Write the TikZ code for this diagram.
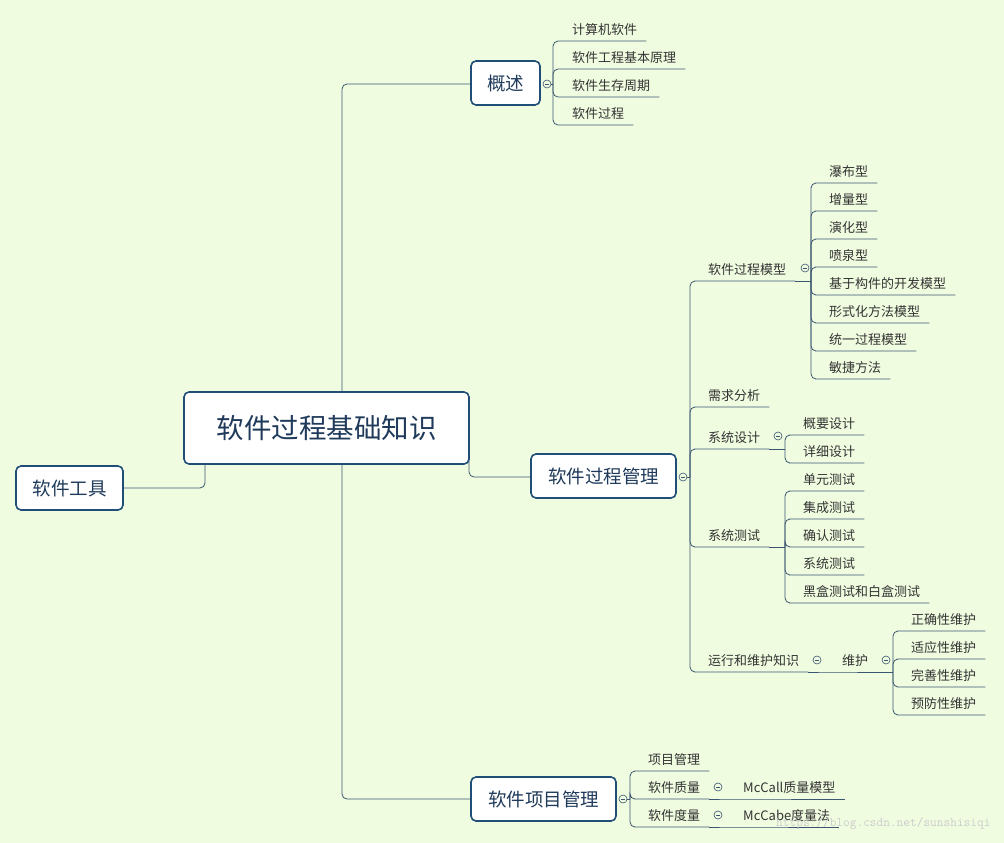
\documentclass[tikz,border=0pt]{standalone}
\usepackage{fontspec}
\newfontfamily\cjk{Noto Sans CJK SC}
\definecolor{bg}{HTML}{F0FCE0}
\definecolor{ln}{HTML}{3A5670}
\definecolor{bd}{HTML}{1F4E79}
\definecolor{tx}{HTML}{1F3A5A}
\definecolor{lt}{HTML}{333333}
\tikzset{
 conn/.style={draw=ln,line width=0.8pt,rounded corners=5pt},
 box/.style={draw=bd,line width=1.6pt,rounded corners=5pt,fill=white,text=tx,font=\cjk\fontsize{18.5}{20}\selectfont,inner sep=0pt},
 leaf/.style={anchor=south west,inner xsep=9pt,inner ysep=5.5pt,text=lt,font=\cjk\fontsize{13}{14}\selectfont},
 coll/.style={draw=ln,circle,line width=0.6pt,minimum size=8pt,inner sep=0pt,fill=bg,
   path picture={\draw[ln,line width=0.6pt] ([xshift=-2pt]path picture bounding box.center)--([xshift=2pt]path picture bounding box.center);}}
}
\newcommand\leaf[4]{\node[leaf] (#1) at ({#2-9},#3) {#4};}
\begin{document}
\begin{tikzpicture}[x=1pt,y=-1pt]
\fill[bg] (0,0) rectangle (1004,843);
\useasboundingbox (0,0) rectangle (1004,843);
% trunk
\draw[conn] (342,400) |- (471,84);
\draw[conn] (342,460) |- (471,799);
\draw[conn] (469,455) |- (531,477);
\draw[conn] (123,488) -| (205,455);
% main boxes
\node[box,minimum width=285pt,minimum height=72pt,font=\cjk\fontsize{27.5}{30}\selectfont] (root) at (326.5,428) {软件过程基础知识};
\node[box,minimum width=107pt,minimum height=44pt] (tool) at (69.5,488) {软件工具};
\node[box,minimum width=69pt,minimum height=44pt] (gs) at (505.5,83) {概述};
\node[box,minimum width=145pt,minimum height=44pt] (gl) at (603.5,476) {软件过程管理};
\node[box,minimum width=145pt,minimum height=44pt] (xm) at (543.5,799) {软件项目管理};
% 概述
\node[coll] (c1) at (547,84) {};
\coordinate (j1) at (553,84);
\draw[conn] (c1.east) -- (j1);
\leaf{a1}{572}{41}{计算机软件}\leaf{a2}{572}{69}{软件工程基本原理}\leaf{a3}{572}{97}{软件生存周期}\leaf{a4}{572}{125}{软件过程}
\foreach \n in {a1,a2,a3,a4} \draw[conn] (j1) |- (\n.south west) -- (\n.south east);
% 软件过程管理
\node[coll] (c2) at (683,477) {};
\coordinate (j2) at (690,477);
\draw[conn] (c2.east) -- (j2);
\leaf{b1}{708}{281}{软件过程模型}\leaf{b2}{708}{407}{需求分析}\leaf{b3}{708}{449}{系统设计}\leaf{b4}{708}{547}{系统测试}\leaf{b5}{708}{672}{运行和维护知识}
\foreach \n in {b1,b2,b3,b4,b5} \draw[conn] (j2) |- (\n.south west) -- (\n.south east);
% 模型
\node[coll] (c3) at (805,268) {};
\coordinate (j3) at (811,281);
\draw[conn] (b1.south east) -- (j3);
\leaf{m1}{829}{183}{瀑布型}\leaf{m2}{829}{211}{增量型}\leaf{m3}{829}{239}{演化型}\leaf{m4}{829}{267}{喷泉型}
\leaf{m5}{829}{295}{基于构件的开发模型}\leaf{m6}{829}{323}{形式化方法模型}\leaf{m7}{829}{351}{统一过程模型}\leaf{m8}{829}{379}{敏捷方法}
\foreach \n in {m1,m2,m3,m4,m5,m6,m7,m8} \draw[conn] (j3) |- (\n.south west) -- (\n.south east);
% 设计
\node[coll] (c4) at (778,436) {};
\coordinate (j4) at (785,449);
\draw[conn] (b3.south east) -- (j4);
\leaf{d1}{803}{435}{概要设计}\leaf{d2}{803}{463}{详细设计}
\foreach \n in {d1,d2} \draw[conn] (j4) |- (\n.south west) -- (\n.south east);
% 测试
\coordinate (j5) at (785,547);
\draw[conn] (b4.south east) -- (j5);
\leaf{t1}{803}{491}{单元测试}\leaf{t2}{803}{519}{集成测试}\leaf{t3}{803}{547}{确认测试}\leaf{t4}{803}{575}{系统测试}\leaf{t5}{803}{603}{黑盒测试和白盒测试}
\foreach \n in {t1,t2,t3,t4,t5} \draw[conn] (j5) |- (\n.south west) -- (\n.south east);
% 维护
\node[coll] (c6) at (817,660) {};
\leaf{w0}{842}{672}{维护}
\draw[conn] (b5.south east) -- (w0.south west) -- (w0.south east);
\node[coll] (c7) at (886,660) {};
\coordinate (j7) at (893,672);
\draw[conn] (w0.south east) -- (j7);
\leaf{w1}{911}{631}{正确性维护}\leaf{w2}{911}{659}{适应性维护}\leaf{w3}{911}{687}{完善性维护}\leaf{w4}{911}{715}{预防性维护}
\foreach \n in {w1,w2,w3,w4} \draw[conn] (j7) |- (\n.south west) -- (\n.south east);
% 项目管理
\node[coll] (c8) at (623,799) {};
\coordinate (j8) at (630,799);
\draw[conn] (c8.east) -- (j8);
\leaf{p1}{648}{771}{项目管理}\leaf{p2}{648}{799}{软件质量}\leaf{p3}{648}{827}{软件度量}
\foreach \n in {p1,p2,p3} \draw[conn] (j8) |- (\n.south west) -- (\n.south east);
\node[coll] (c9) at (718,787) {};
\node[coll] (c10) at (718,815) {};
\leaf{q1}{743}{799}{McCall质量模型}\leaf{q2}{743}{827}{McCabe度量法}
\draw[conn] (p2.south east) -- (q1.south west) -- (q1.south east);
\draw[conn] (p3.south east) -- (q2.south west) -- (q2.south east);
\node[anchor=south east,text=black!20,font=\fontsize{13}{14}\selectfont\ttfamily] (wm) at (994,833) {https://blog.csdn.net/sunshisiqi};
\end{tikzpicture}
\end{document}
